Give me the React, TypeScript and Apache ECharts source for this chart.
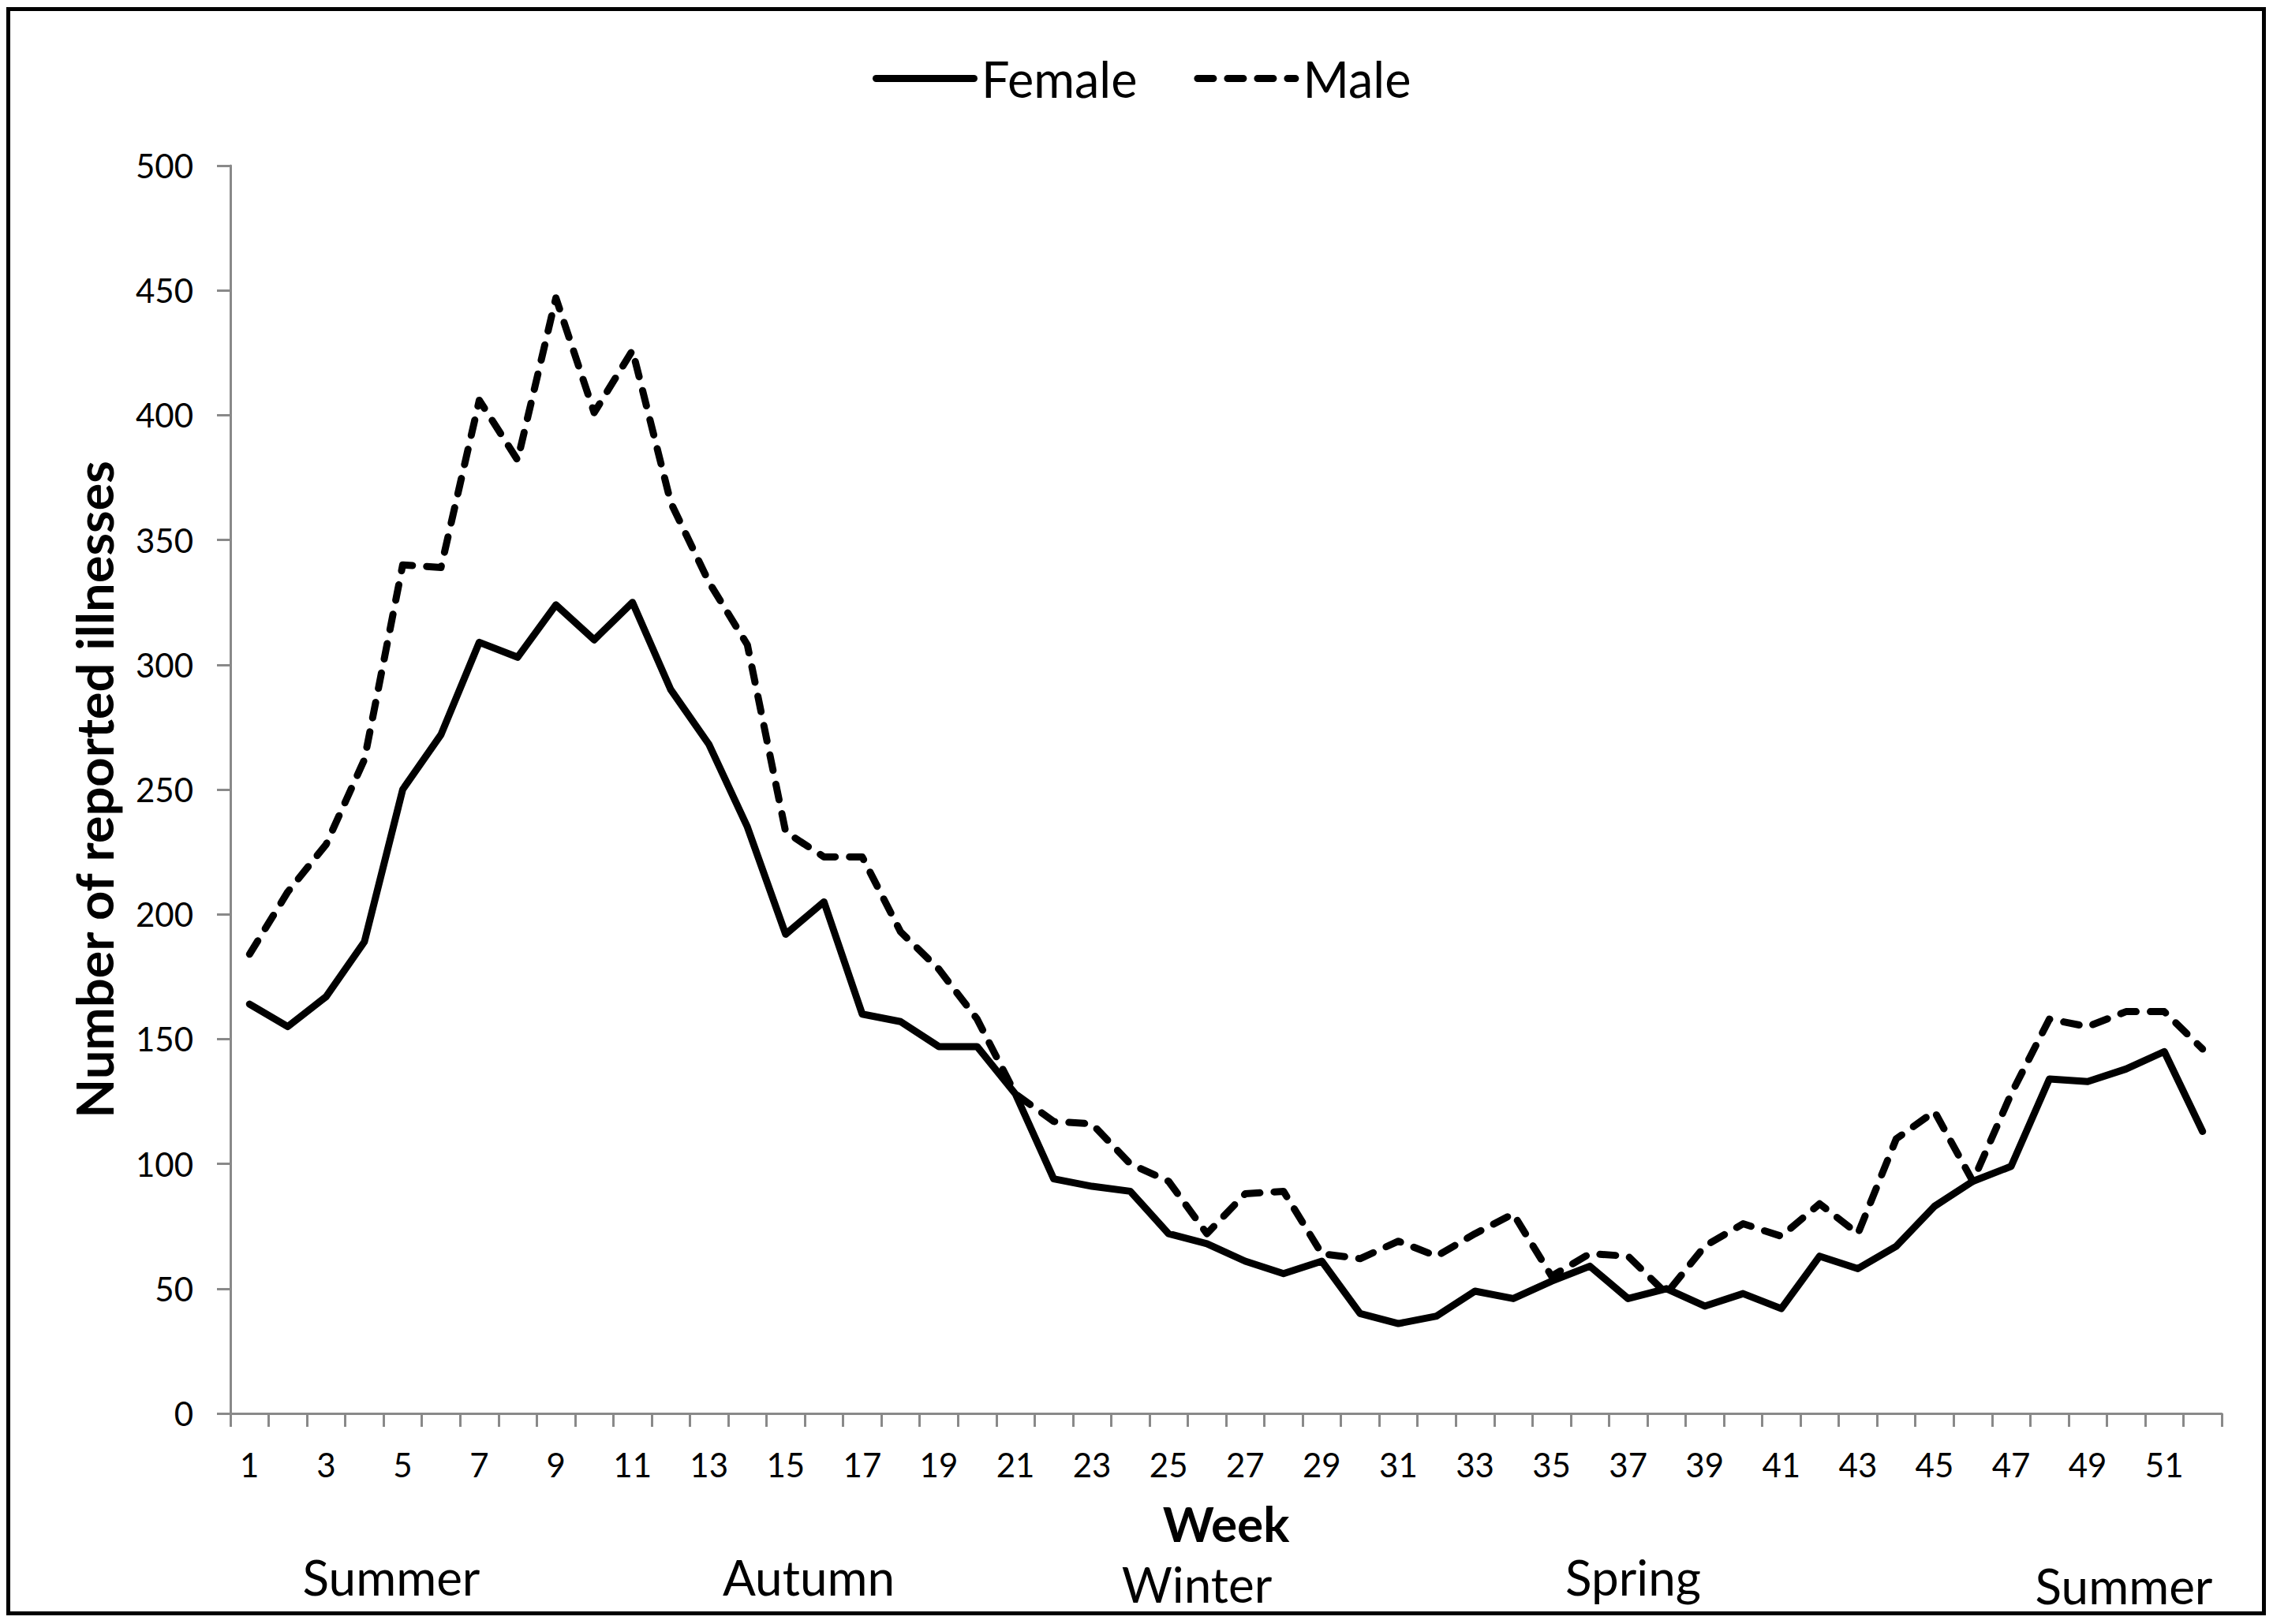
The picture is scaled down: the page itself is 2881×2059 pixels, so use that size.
import React, { useEffect, useRef } from "react";
import * as echarts from "echarts";

const weeks: string[] = [
  "1", "2", "3", "4", "5", "6", "7", "8", "9", "10", "11", "12", "13",
  "14", "15", "16", "17", "18", "19", "20", "21", "22", "23", "24", "25", "26",
  "27", "28", "29", "30", "31", "32", "33", "34", "35", "36", "37", "38", "39",
  "40", "41", "42", "43", "44", "45", "46", "47", "48", "49", "50", "51", "52",
];

const female: number[] = [
  164, 155, 167, 189, 250, 272, 309, 303, 324, 310, 325, 290, 268,
  235, 192, 205, 160, 157, 147, 147, 128, 94, 91, 89, 72, 68,
  61, 56, 61, 40, 36, 39, 49, 46, 53, 59, 46, 50, 43,
  48, 42, 63, 58, 67, 83, 93, 99, 134, 133, 138, 145, 113,
];

const male: number[] = [
  184, 209, 228, 262, 340, 339, 406, 382, 447, 401, 426, 365, 333,
  308, 233, 223, 223, 193, 178, 158, 128, 117, 116, 100, 93, 72,
  88, 89, 64, 62, 69, 63, 72, 80, 55, 64, 63, 48, 67,
  76, 71, 84, 72, 110, 121, 93, 128, 158, 155, 161, 161, 146,
];

const seasons: string[] = ["Summer", "Autumn", "Winter", "Spring", "Summer"];
const seriesNames: string[] = ["Female", "Male"];
const yTitle = "Number of reported illnesses";
const xTitle = "Week";

const FONT = "Lato, 'Open Sans', 'DejaVu Sans', sans-serif";
const AXIS_GRAY = "#898989";

// pixel centres of the season captions
const seasonPos: [number, number][] = [
  [488, 1991],
  [1017, 1991],
  [1509, 2000],
  [2062, 1991],
  [2684, 2002],
];

// legend keys: a solid bar and four rounded dashes (133 x 9)
const seg = (a: number, b: number) =>
  `M${a + 4.5},0H${b - 4.5}A4.5,4.5 0 0 1 ${b - 4.5},9H${a + 4.5}A4.5,4.5 0 0 1 ${a + 4.5},0Z`;
const solidIcon = "path://" + seg(0, 133);
const dashIcon = "path://" + seg(0, 29) + seg(38, 67) + seg(76, 105) + seg(114, 133);

export default function App() {
  const ref = useRef<HTMLDivElement>(null);

  useEffect(() => {
    if (!ref.current) return;
    const chart = echarts.init(ref.current, undefined, { renderer: "svg" });
    const axisLineStyle = { color: AXIS_GRAY, width: 3 };
    const option: any = {
      animation: false,
      backgroundColor: "#ffffff",
      textStyle: { fontFamily: FONT },
      grid: { left: 284, top: 202, width: 2524, height: 1582, containLabel: false },
      legend: {
        left: 1093,
        top: 55,
        itemWidth: 133,
        itemHeight: 9,
        itemGap: 72,
        symbolKeepAspect: false,
        itemStyle: { borderWidth: 0 },
        data: [
          { name: seriesNames[0], icon: solidIcon },
          { name: seriesNames[1], icon: dashIcon },
        ],
        textStyle: { fontSize: 63, color: "#000", fontFamily: FONT, lineHeight: 63 },
      },
      xAxis: {
        type: "category",
        data: weeks,
        boundaryGap: true,
        axisLine: { show: true, lineStyle: axisLineStyle },
        axisTick: { show: true, interval: 0, length: 17, lineStyle: axisLineStyle },
        axisLabel: { interval: 1, margin: 44, fontSize: 42, color: "#000", fontFamily: FONT },
        splitLine: { show: false },
        name: xTitle,
        nameLocation: "middle",
        nameGap: 108,
        nameTextStyle: { fontSize: 62, fontWeight: "bold", color: "#000", fontFamily: FONT },
      },
      yAxis: {
        type: "value",
        min: 0,
        max: 500,
        interval: 50,
        axisLine: { show: true, lineStyle: axisLineStyle },
        axisTick: { show: true, length: 17, lineStyle: axisLineStyle },
        axisLabel: { margin: 47, fontSize: 42, color: "#000", fontFamily: FONT },
        splitLine: { show: false },
        name: yTitle,
        nameLocation: "middle",
        nameRotate: 90,
        nameGap: 141,
        nameTextStyle: { fontSize: 65, fontWeight: "bold", color: "#000", fontFamily: FONT },
      },
      series: [
        {
          name: seriesNames[0],
          type: "line",
          data: female,
          symbol: "none",
          itemStyle: { color: "#000" },
          lineStyle: { color: "#000", width: 9, type: "solid", cap: "round", join: "round" },
        },
        {
          name: seriesNames[1],
          type: "line",
          data: male,
          symbol: "none",
          itemStyle: { color: "#000" },
          lineStyle: { color: "#000", width: 9, type: [20, 18], cap: "round", join: "round" },
        },
      ],
      graphic: [
        {
          type: "rect",
          silent: true,
          shape: { x: 2.5, y: 3.5, width: 2859, height: 2034 },
          style: { fill: "none", stroke: "#000", lineWidth: 5 },
        },
        ...seasons.map((s, i) => ({
          type: "text",
          silent: true,
          x: seasonPos[i][0],
          y: seasonPos[i][1],
          style: {
            text: s,
            fontSize: 62,
            fontFamily: FONT,
            fill: "#000",
            textAlign: "center",
            textVerticalAlign: "middle",
          },
        })),
      ],
    };
    chart.setOption(option);
    return () => chart.dispose();
  }, []);

  return <div ref={ref} style={{ width: 2865, height: 2043 }} />;
}
